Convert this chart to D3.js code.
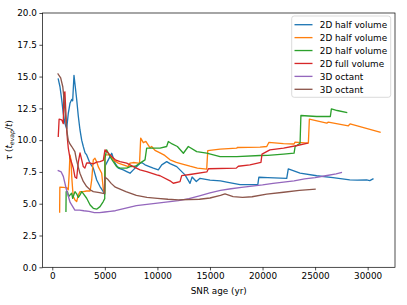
<!DOCTYPE html>
<html>
<head>
<meta charset="utf-8">
<script src="https://cdn.jsdelivr.net/npm/d3@7"></script>
<style>
  html, body { margin: 0; padding: 0; background: #fff; }
  svg { display: block; font-family: "DejaVu Sans", sans-serif; }
</style>
</head>
<body>
<svg id="chart" width="407" height="305"></svg>
<script>
// ---- data ----
const seriesLabels = ["2D half volume", "2D half volume", "2D half volume", "2D full volume", "3D octant", "3D octant"];
const seriesColors = ["#1f77b4", "#ff7f0e", "#2ca02c", "#d62728", "#9467bd", "#8c564b"];
const xTicks = [0, 5000, 10000, 15000, 20000, 25000, 30000];
const yTicks = [0, 2.5, 5, 7.5, 10, 12.5, 15, 17.5, 20];

const blue = [[570,14.8],[733,14.2],[894,13.2],[1047,12.1],[1208,11.3],[1370,10.9],[1522,12.1],[1684,12.9],[1846,13.2],[1940,13.1],[2065,15.1],[2188,14.2],[2322,13.2],[2474,11.9],[2636,10.8],[2797,10.0],[2950,9.5],[3120,9.0],[3273,8.84],[3587,8.19],[3901,7.8],[4225,6.87],[4539,6.35],[4853,5.95],[4990,5.75],[5040,8.0],[5328,8.45],[5652,8.97],[5804,8.6],[5966,8.19],[6280,7.8],[6756,7.66],[7079,7.53],[7394,7.4],[7707,7.66],[8031,7.92],[8346,8.19],[8506,8.24],[8821,8.06],[9296,7.9],[9610,7.8],[10086,7.66],[10410,8.06],[10885,8.31],[11199,8.15],[11837,7.92],[12626,7.27],[13100,6.6],[13300,7.1],[13700,6.75],[14054,7.0],[15005,6.85],[16000,6.8],[16594,6.7],[17860,6.5],[19550,6.5],[19650,7.08],[20500,7.05],[22300,7.0],[22450,7.74],[23570,7.4],[25150,7.2],[26700,7.05],[28300,6.87],[29000,6.85],[29900,6.87],[30200,6.82],[30500,6.95]];
const orange = [[700,4.35],[720,6.3],[1370,6.27],[1520,6.1],[1610,7.4],[1680,8.84],[1780,8.45],[1850,7.13],[1940,6.1],[2000,5.56],[2160,5.3],[2320,5.17],[2480,5.7],[2640,5.95],[2950,5.95],[3270,6.0],[3600,6.0],[3750,6.87],[3900,8.45],[4060,8.58],[4220,8.3],[4380,7.9],[4700,7.4],[4860,6.1],[4990,5.82],[5014,8.84],[5490,8.84],[5804,8.45],[6280,8.19],[6756,8.06],[7231,7.92],[7394,8.19],[7707,8.24],[8183,8.19],[8300,8.2],[8411,10.16],[8660,9.8],[8900,9.9],[9300,9.4],[9450,9.5],[9770,9.2],[10250,9.0],[10700,8.8],[11200,8.45],[11800,8.25],[12470,8.1],[13100,7.95],[13800,7.8],[14690,7.72],[14790,9.18],[15960,9.29],[17540,9.37],[17600,9.42],[19760,9.45],[20400,9.5],[20600,9.82],[21980,9.72],[23000,9.7],[23093,9.84],[24360,9.76],[24454,11.65],[26110,11.34],[26262,11.42],[28165,11.13],[28327,11.28],[31180,10.63]];
const green = [[1300,4.4],[1320,5.95],[1450,5.95],[1560,5.56],[1700,5.7],[1850,5.82],[1940,5.43],[2160,5.95],[2300,5.8],[2480,5.5],[2640,5.69],[2800,5.95],[2950,5.8],[3270,5.43],[3600,4.9],[3900,4.64],[4220,4.57],[4540,4.77],[4850,5.17],[4990,5.4],[5010,8.58],[5170,9.24],[5490,8.71],[5800,8.31],[6120,7.92],[6440,7.8],[7080,7.8],[7400,7.92],[7900,7.95],[8350,8.19],[8820,8.45],[8980,9.37],[10250,9.37],[10880,9.5],[11040,9.89],[11400,9.7],[11900,9.5],[12470,8.97],[12940,9.5],[13740,9.1],[14690,8.98],[15960,8.71],[17540,8.71],[19760,8.79],[20500,8.8],[22000,8.9],[23000,8.98],[23100,9.5],[23570,9.76],[23650,11.94],[25150,11.86],[26450,11.86],[26550,12.46],[27100,12.33],[28000,12.17]];
const red = [[570,10.3],[650,11.65],[900,11.6],[1050,11.3],[1100,13.7],[1200,13.8],[1280,12.4],[1370,10.8],[1450,10.0],[1520,9.4],[1680,8.6],[1850,8.2],[2000,7.8],[2160,7.1],[2320,7.0],[2480,8.3],[2640,9.0],[2800,8.45],[2950,7.92],[3100,7.8],[3270,8.2],[3600,8.2],[3900,8.13],[4220,8.27],[4540,8.31],[4850,8.4],[5010,9.24],[5300,9.0],[5650,8.71],[6000,8.45],[6440,8.31],[7080,8.19],[7710,7.92],[8350,7.66],[8980,7.53],[9930,7.27],[10250,7.2],[11200,6.8],[11510,6.61],[12150,6.74],[12310,7.21],[13100,7.3],[14700,7.5],[14850,7.75],[17500,7.8],[17700,7.95],[18800,8.06],[19850,8.25],[19950,8.9],[20700,9.24],[22000,9.37],[23300,9.58],[24250,9.76]];
const purple = [[570,7.6],[850,7.5],[1050,7.15],[1350,6.1],[1700,5.1],[2150,4.5],[2600,4.5],[3000,4.45],[3500,4.4],[4000,4.3],[4500,4.3],[5000,4.35],[5500,4.4],[6000,4.45],[7000,4.65],[8000,4.85],[9000,4.95],[10000,5.05],[11000,5.15],[12000,5.25],[13000,5.4],[14000,5.62],[15000,5.85],[16000,6.05],[17000,6.18],[18000,6.28],[19000,6.38],[20000,6.48],[21000,6.6],[22000,6.7],[23000,6.8],[24000,6.95],[25000,7.05],[26000,7.2],[27000,7.35],[27500,7.45]];
const brown = [[550,15.2],[800,14.9],[1000,14.2],[1100,13.4],[1200,12.4],[1300,11.5],[1430,10.5],[1520,10.0],[1680,9.7],[1850,9.5],[2150,9.1],[2300,8.45],[2470,7.9],[2630,7.4],[2950,6.75],[3270,6.35],[3600,6.1],[3900,5.95],[4500,5.87],[4950,5.8],[5000,7.1],[5300,6.9],[5600,6.6],[6000,6.3],[7000,5.95],[8000,5.65],[9000,5.5],[10000,5.42],[11000,5.35],[12000,5.3],[13000,5.33],[14000,5.35],[15000,5.45],[16000,5.65],[16430,5.77],[17200,5.56],[18100,5.5],[19000,5.55],[20400,5.75],[22000,5.9],[23500,6.05],[25000,6.14]];

const allSeries = [blue, orange, green, red, purple, brown];

// ---- layout ----
const svg = d3.select("#chart");
const mLeft = 42.5, mRight = 395, mTop = 13, mBottom = 267.3;
const x = d3.scaleLinear().domain([-930, 32600]).range([mLeft, mRight]);
const y = d3.scaleLinear().domain([0, 20]).range([mBottom, mTop]);
const fs = 8.83;

// lines
const line = d3.line().x(d => x(d[0])).y(d => y(d[1]));
const plot = svg.append("g");
plot.append("clipPath").attr("id", "clip").append("rect")
  .attr("x", mLeft).attr("y", mTop).attr("width", mRight - mLeft).attr("height", mBottom - mTop);
const lines = plot.append("g").attr("clip-path", "url(#clip)");
allSeries.forEach((s, i) => {
  lines.append("path").datum(s)
    .attr("d", line)
    .attr("fill", "none")
    .attr("stroke", seriesColors[i])
    .attr("stroke-width", 1.33)
    .attr("stroke-linejoin", "round")
    .attr("stroke-linecap", "square");
});

// axes
const xAxis = d3.axisBottom(x).tickValues(xTicks).tickFormat(d3.format("d")).tickSize(3.1).tickPadding(2.5);
const yAxis = d3.axisLeft(y).tickValues(yTicks).tickFormat(d3.format(".1f")).tickSize(3.1).tickPadding(2.5);
const gx = svg.append("g").attr("transform", `translate(0,${mBottom})`).call(xAxis);
const gy = svg.append("g").attr("transform", `translate(${mLeft},0)`).call(yAxis);
[gx, gy].forEach(g => {
  g.select(".domain").remove();
  g.selectAll(".tick line").attr("stroke", "#000").attr("stroke-width", 0.7);
  g.selectAll(".tick text").attr("fill", "#000").style("font-size", fs + "px").style("font-family", "DejaVu Sans");
});

// frame (spines)
svg.append("rect").attr("x", mLeft).attr("y", mTop).attr("width", mRight - mLeft).attr("height", mBottom - mTop)
  .attr("fill", "none").attr("stroke", "#000").attr("stroke-width", 0.7);

// axis labels
svg.append("text").attr("x", (mLeft + mRight) / 2).attr("y", 294)
  .attr("text-anchor", "middle").style("font-size", fs + "px").text("SNR age (yr)");
const yl = svg.append("text").attr("transform", `translate(12,${(mTop + mBottom) / 2}) rotate(-90)`)
  .attr("text-anchor", "middle").style("font-size", fs + "px");
yl.append("tspan").style("font-style", "italic").text("τ");
yl.append("tspan").text(" (");
yl.append("tspan").style("font-style", "italic").text("t");
yl.append("tspan").style("font-style", "italic").style("font-size", (fs * 0.7) + "px").attr("dy", 2).text("evap");
yl.append("tspan").attr("dy", -2).text("/");
yl.append("tspan").style("font-style", "italic").text("t");
yl.append("tspan").text(")");

// legend
const lg = svg.append("g");
lg.append("rect").attr("x", 291.7).attr("y", 16).attr("width", 99).attr("height", 81.3)
  .attr("rx", 2.5).attr("fill", "#fff").attr("fill-opacity", 0.8)
  .attr("stroke", "#cccccc").attr("stroke-width", 0.7);
seriesLabels.forEach((lab, i) => {
  const yy = 24.7 + i * 12.92;
  lg.append("line").attr("x1", 294.5).attr("x2", 312.5).attr("y1", yy).attr("y2", yy)
    .attr("stroke", seriesColors[i]).attr("stroke-width", 1.33);
  lg.append("text").attr("x", 319.8).attr("y", yy + 3.2).style("font-size", fs + "px").text(lab);
});
</script>
</body>
</html>
